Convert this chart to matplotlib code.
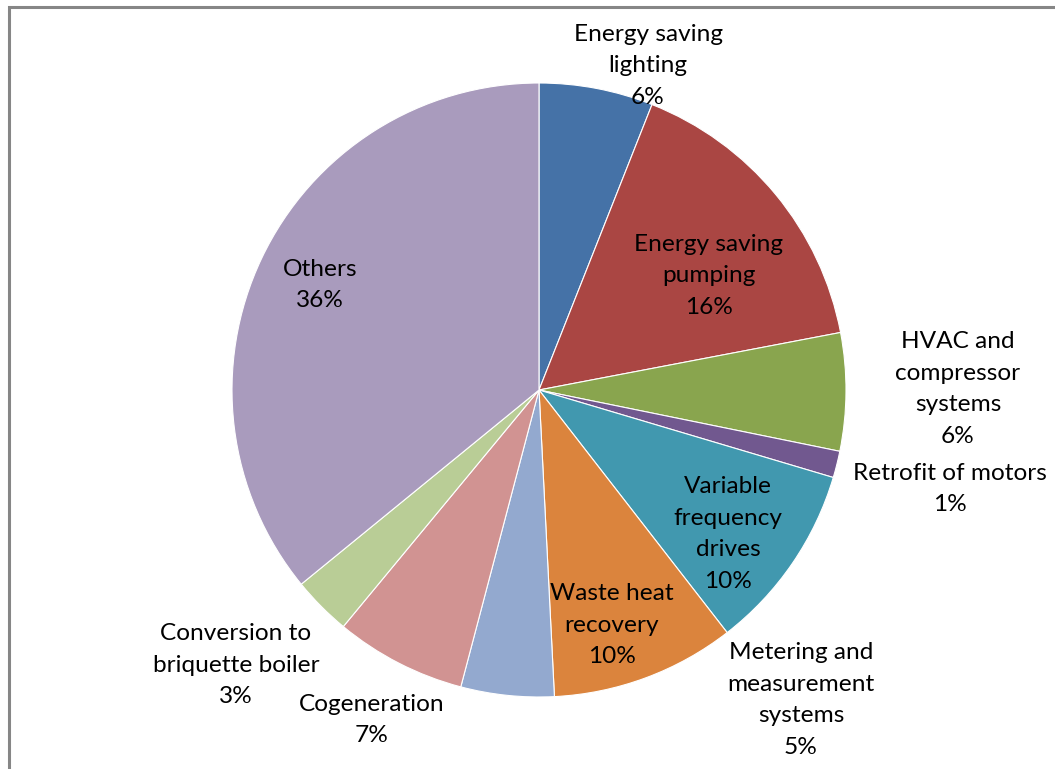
import matplotlib
matplotlib.use("Agg")
import matplotlib.pyplot as plt
from matplotlib.patches import Rectangle

# Share of projects by energy-efficiency measure (percent)
categories = [
    "Energy saving\nlighting",
    "Energy saving\npumping",
    "HVAC and\ncompressor\nsystems",
    "Retrofit of motors",
    "Variable\nfrequency\ndrives",
    "Waste heat\nrecovery",
    "Metering and\nmeasurement\nsystems",
    "Cogeneration",
    "Conversion to\nbriquette boiler",
    "Others",
]
shares = [6.0, 16.0, 6.2, 1.4, 9.9, 9.7, 4.9, 6.9, 3.1, 35.9]
colors = ["#4572A7", "#AA4643", "#89A54E", "#71588F", "#4198AF",
          "#DB843D", "#93A9CF", "#D19392", "#B9CD96", "#A99BBD"]

# Label anchor points in pixel space (x, y from top)
label_pos = [(648, 66), (709, 276), (958, 389), (950, 489), (728, 534),
             (612, 625), (801, 700), (372, 720), (236, 665), (320, 285)]

W, H = 1055, 769
fig = plt.figure(figsize=(W / 100, H / 100), dpi=100)
ax = fig.add_axes([0, 0, 1, 1])

cx, cy, r = 539, H - 390, 307
ax.pie(shares, colors=colors, startangle=90, counterclock=False,
       center=(cx, cy), radius=r, frame=True,
       wedgeprops=dict(edgecolor="white", linewidth=0.8))
ax.set_xlim(0, W)
ax.set_ylim(0, H)
ax.set_aspect("equal")
ax.axis("off")

for name, val, (x, y) in zip(categories, shares, label_pos):
    ax.text(x, H - y, f"{name}\n{round(val):d}%", ha="center", va="center",
            fontsize=17.6, family="Lato", linespacing=1.64, color="black")

# Chart frame (right and bottom edges fall outside the canvas)
ax.add_patch(Rectangle((9, -20), W + 20, H - 7 + 20,
                       fill=False, edgecolor="#868686", linewidth=2.2,
                       clip_on=False))

fig.savefig("out.png", dpi=100)
